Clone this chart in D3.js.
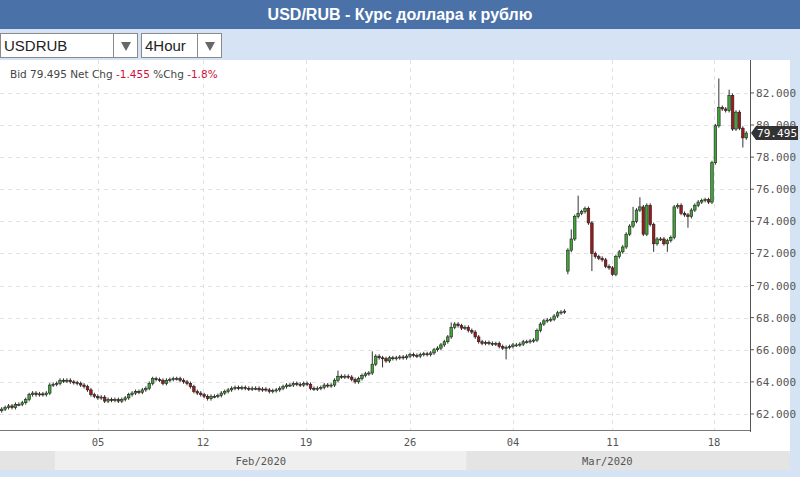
<!DOCTYPE html>
<html><head><meta charset="utf-8">
<script src="https://cdn.jsdelivr.net/npm/d3@7"></script>
<style>body{margin:0;background:#d5e3f5;font-family:"DejaVu Sans",sans-serif}</style>
</head><body>
<script>
// 4h closes, one per candle (weekends skipped)
const closes = [
  62.3,62.4,62.5, 62.4,62.6,62.6, 62.7,62.9,63.2, 63.3,63.2,63.25, 63.2,63.3,63.8,
  63.85,63.9,64.1, 64.05,64.1,64.0, 63.95,63.9,63.8, 63.7,63.5,63.2, 63.1,63.0,63.05,
  62.8,62.9,62.85, 62.9,62.8,62.9, 63.0,63.2,63.3, 63.4,63.35,63.5, 63.6,63.9,64.2,
  64.15,64.1,63.9, 64.1,64.15,64.2, 64.2,64.1,64.0, 63.9,63.7,63.4, 63.3,63.2,63.1,
  62.95,63.1,63.1, 63.15,63.3,63.4, 63.5,63.6,63.65, 63.6,63.65,63.6, 63.55,63.6,63.6,
  63.5,63.55,63.5, 63.4,63.45,63.5, 63.6,63.7,63.8, 63.8,63.9,63.85, 63.8,63.9,63.85,
  63.6,63.55,63.6, 63.65,63.8,63.75, 63.8,64.1,64.35, 64.3,64.35,64.3, 64.15,64.0,64.2,
  64.4,64.5,64.55, 65.1,65.6,65.5, 65.45,65.3,65.5, 65.45,65.5,65.55, 65.5,65.6,65.7,
  65.65,65.6,65.7, 65.75,65.7,65.8, 66.0,66.1,66.3, 66.5,66.8,67.4, 67.6,67.5,67.35,
  67.4,67.2,67.1, 66.8,66.5,66.4, 66.45,66.4,66.35, 66.4,66.2,66.1, 66.15,66.2,66.3,
  66.3,66.35,66.5, 66.5,66.55,66.6, 67.2,67.6,67.8, 67.85,67.9,68.1, 68.3,68.35,68.4,
  72.2,72.9,74.3, 74.5,74.6,74.8, 73.9,72.0,71.8, 71.7,71.6,71.2, 71.1,70.7,71.8,
  72.1,72.4,73.2, 73.7,74.0,74.7, 74.9,73.2,75.0, 73.8,72.6,72.9, 72.9,72.6,72.8,
  73.0,74.9,75.0, 74.5,74.4,74.3, 74.7,75.0,75.2, 75.3,75.35,75.2, 77.65,79.95,81.1,
  81.0,80.9,81.85, 79.75,80.8,79.8, 79.2,79.495
]
const firstOpen = 62.2
const gapOpens = {165: 70.9}
const spikeHighs = {166: 73.5, 168: 75.6, 184: 74.9, 186: 75.5, 209: 82.9, 212: 82.2, 98: 64.7, 108: 65.9, 131: 67.7, 144: 66.5}
const spikeLows = {165: 70.7, 172: 70.9, 178: 70.6, 190: 72.1, 194: 72.1, 200: 73.6, 216: 78.6, 147: 65.4, 111: 64.9}
const priceTicks = [62, 64, 66, 68, 70, 72, 74, 76, 78, 80, 82]
const dayTicks = [[28.1, "05"], [58.7, "12"], [88.7, "19"], [119, "26"], [149, "04"], [178, "11"], [207.6, "18"]]
const months = [[16, 136, "Feb/2020"], [136, 218, "Mar/2020"]]
const lastPrice = 79.495

const W = 800, H = 477
const plot = {left: 0, right: 750, top: 60, bottom: 430}
const svg = d3.select("body").append("svg").attr("width", W).attr("height", H)

// header
svg.append("rect").attr("width", W).attr("height", 29).attr("fill", "#4a72a8")
svg.append("text").attr("x", 400).attr("y", 20).attr("text-anchor", "middle")
  .attr("fill", "#fff").attr("font-weight", "bold").attr("font-size", 16)
  .attr("font-family", "Liberation Sans, Arial, sans-serif")
  .text("USD/RUB - Курс доллара к рублю")
svg.append("rect").attr("y", 29).attr("width", W).attr("height", 31).attr("fill", "#d5e3f5")

const dropdown = (x, w, label) => {
  const g = svg.append("g").attr("transform", `translate(${x},33)`)
  g.append("rect").attr("x", 0.5).attr("y", 0.5).attr("width", w).attr("height", 24)
    .attr("fill", "#fff").attr("stroke", "#8a8a8a")
  g.append("line").attr("x1", w - 23.5).attr("x2", w - 23.5).attr("y1", 0).attr("y2", 25).attr("stroke", "#8a8a8a")
  g.append("text").attr("x", 4).attr("y", 18).attr("font-size", 15).attr("fill", "#222")
    .attr("font-family", "Liberation Sans, Arial, sans-serif").text(label)
  g.append("path").attr("d", `M${w - 16},9 L${w - 6},9 L${w - 11},18 Z`).attr("fill", "#666")
}
dropdown(0, 137, "USDRUB")
dropdown(141, 80, "4Hour")

// plot background
svg.append("rect").attr("x", 0).attr("y", 60).attr("width", 790).attr("height", 410).attr("fill", "#fff")

const n = closes.length
const x = d3.scaleLinear().domain([-0.5, n - 0.5]).range([0, 748])
const y = d3.scaleLinear().domain([61, 84.05]).range([plot.bottom, plot.top])

// grid
svg.append("g").selectAll("line").data(priceTicks).join("line")
  .attr("x1", 0).attr("x2", plot.right).attr("y1", d => Math.round(y(d)) + 0.5).attr("y2", d => Math.round(y(d)) + 0.5)
  .attr("stroke", "#e2e2e2").attr("stroke-dasharray", "4,4")
svg.append("g").selectAll("line").data(dayTicks).join("line")
  .attr("x1", d => Math.round(x(d[0])) + 0.5).attr("x2", d => Math.round(x(d[0])) + 0.5)
  .attr("y1", plot.top).attr("y2", plot.bottom)
  .attr("stroke", "#e2e2e2").attr("stroke-dasharray", "4,4")

// info line
const info = svg.append("text").attr("x", 10).attr("y", 78).attr("font-size", 10.5).attr("fill", "#444")
info.append("tspan").text("Bid 79.495 Net Chg ")
info.append("tspan").attr("fill", "#d0103a").text("-1.455")
info.append("tspan").text(" %Chg ")
info.append("tspan").attr("fill", "#d0103a").text("-1.8%")

// candles
const candles = closes.map((c, i) => {
  const o = gapOpens[i] ?? (i ? closes[i - 1] : firstOpen)
  const hi = spikeHighs[i] ?? Math.max(o, c) + 0.12
  const lo = spikeLows[i] ?? Math.min(o, c) - 0.12
  return {i, o, c, hi, lo}
})
const bw = 2.6
const cg = svg.append("g")
cg.selectAll("line").data(candles).join("line")
  .attr("x1", d => x(d.i)).attr("x2", d => x(d.i))
  .attr("y1", d => y(d.hi)).attr("y2", d => y(d.lo))
  .attr("stroke", "#333").attr("stroke-width", 1)
cg.selectAll("rect").data(candles).join("rect")
  .attr("x", d => x(d.i) - bw / 2).attr("width", bw)
  .attr("y", d => y(Math.max(d.o, d.c)))
  .attr("height", d => Math.max(1, Math.abs(y(d.o) - y(d.c))))
  .attr("fill", d => d.c >= d.o ? "#3fa535" : "#a01818")
  .attr("stroke", "#222").attr("stroke-width", 0.6)

// right axis
svg.append("line").attr("x1", plot.right + 0.5).attr("x2", plot.right + 0.5).attr("y1", plot.top).attr("y2", plot.bottom + 2).attr("stroke", "#555")
svg.append("line").attr("x1", 0).attr("x2", plot.right).attr("y1", plot.bottom + 0.5).attr("y2", plot.bottom + 0.5).attr("stroke", "#777")
const ya = svg.append("g").selectAll("g").data(priceTicks).join("g")
ya.append("line").attr("x1", plot.right).attr("x2", plot.right + 4)
  .attr("y1", d => y(d)).attr("y2", d => y(d)).attr("stroke", "#555")
ya.append("text").attr("x", plot.right + 6).attr("y", d => y(d) + 4)
  .attr("font-size", 11).attr("fill", "#555").attr("font-family", "DejaVu Sans Mono, monospace")
  .attr("textLength", 40).text(d => d3.format(".3f")(d))

// last price marker
const ly = y(lastPrice)
svg.append("path").attr("d", `M${plot.right + 1},${ly} L${plot.right + 6},${ly - 7} L${798},${ly - 7} L${798},${ly + 7} L${plot.right + 6},${ly + 7} Z`).attr("fill", "#333")
svg.append("text").attr("x", plot.right + 7).attr("y", ly + 4).attr("font-size", 11).attr("fill", "#fff")
  .attr("font-family", "DejaVu Sans Mono, monospace").attr("textLength", 40).text(d3.format(".3f")(lastPrice))

// bottom axis
svg.append("g").selectAll("text").data(dayTicks).join("text")
  .attr("x", d => x(d[0])).attr("y", 446).attr("text-anchor", "middle")
  .attr("font-size", 10.5).attr("fill", "#555").attr("font-family", "DejaVu Sans Mono, monospace").text(d => d[1])
svg.append("rect").attr("x", 0).attr("y", 451).attr("width", 790).attr("height", 19).attr("fill", "#e4e4e4")
const mg = svg.append("g").selectAll("g").data(months).join("g")
mg.append("rect").attr("x", d => x(d[0] - 0.5)).attr("width", d => x(d[1] - 0.5) - x(d[0] - 0.5))
  .attr("y", 451).attr("height", 19).attr("fill", (d, i) => i % 2 ? "#e4e4e4" : "#efefef")
mg.append("text").attr("x", d => (x(d[0]) + x(d[1] - 1)) / 2).attr("y", 465).attr("text-anchor", "middle")
  .attr("font-size", 10.5).attr("fill", "#555").attr("font-family", "DejaVu Sans Mono, monospace").text(d => d[2])
</script>
</body></html>
